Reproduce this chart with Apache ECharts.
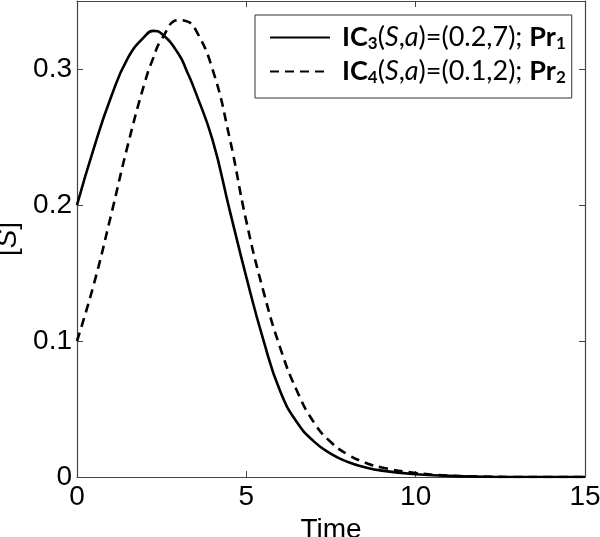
<!DOCTYPE html>
<html>
<head>
<meta charset="utf-8">
<script src="https://cdn.jsdelivr.net/npm/echarts@6/dist/echarts.min.js"></script>
<style>
    html, body { margin: 0; padding: 0; background: #fff; }
    #chart { width: 600px; height: 537px; }
</style>
</head>
<body>
<div id="chart"></div>
<script>
// time points (x) and concentration [S]
const time = [0, 0.5, 1, 1.5, 2, 2.25, 2.5, 3, 3.25, 3.5, 4, 4.5, 5, 5.5, 6, 6.5, 7, 7.5, 8, 8.5, 9, 10, 11, 12, 13, 14, 15];
const icThree = [0.200, 0.242, 0.279, 0.308, 0.324, 0.328, 0.326, 0.311, 0.298, 0.283, 0.248, 0.197, 0.147, 0.101, 0.063, 0.040, 0.026, 0.017, 0.011, 0.0072, 0.0047, 0.002, 0.0008, 0.0002, 0, 0, 0];
const icFour = [0.100, 0.142, 0.192, 0.244, 0.290, 0.308, 0.322, 0.336, 0.335, 0.329, 0.300, 0.250, 0.188, 0.137, 0.095, 0.063, 0.040, 0.0255, 0.0165, 0.0107, 0.007, 0.003, 0.001, 0.0003, 0, 0, 0];
const xTicks = [0, 5, 10, 15];
const yTicks = [0, 0.1, 0.2, 0.3];
const seriesNames = ['ic3', 'ic4'];

let chart = echarts.init(document.getElementById("chart"));

function pairs(vals) {
    return time.map((t, i) => [t, vals[i]]);
}

const axisCol = "#444";
const tickFont = { fontFamily: "Liberation Sans", fontSize: 28, color: "#000" };
const frameLine = { show: true, onZero: false, lineStyle: { color: axisCol, width: 1.2 } };
const tickStyle = { show: true, inside: true, length: 6, lineStyle: { color: axisCol } };

chart.setOption({
    animation: false,
    grid: { left: 77, right: 15, top: 1, bottom: 60, outerBoundsMode: "none", containLabel: false },
    legend: {
        data: seriesNames,
        orient: "vertical",
        left: 255,
        top: 15,
        padding: [9, 6, 12, 14],
        itemGap: 6,
        itemWidth: 60,
        itemHeight: 14,
        borderColor: "#333",
        borderWidth: 1,
        backgroundColor: "#fff",
        itemStyle: { opacity: 0 },
        formatter: function (name) {
            if (name === 'ic3') return '{sp|}{b|IC}{sub|3}{n|(}{i|S}{n|,}{i|a}{n|)=(0.2,7); }{b|Pr}{sub|1}';
            return '{sp|}{b|IC}{sub|4}{n|(}{i|S}{n|,}{i|a}{n|)=(0.1,2); }{b|Pr}{sub|2}';
        },
        textStyle: {
            rich: {
                sp: { width: 7 },
                n: { fontFamily: "Lato", fontSize: 27, color: "#000", lineHeight: 27 },
                b: { fontFamily: "Lato", fontSize: 27, fontWeight: "bold", color: "#000", lineHeight: 27 },
                i: { fontFamily: "Lato", fontSize: 27, fontStyle: "italic", color: "#000", lineHeight: 27 },
                sub: { fontFamily: "Lato", fontSize: 17, fontWeight: "bold", color: "#000", padding: [12, 0, 0, 0] },
            },
        },
    },
    xAxis: [
        {
            type: "value",
            min: 0,
            max: 15,
            interval: 5,
            name: "Time",
            nameLocation: "middle",
            nameGap: 23,
            nameTextStyle: tickFont,
            axisLine: frameLine,
            axisTick: Object.assign({ customValues: xTicks }, tickStyle),
            axisLabel: Object.assign({ margin: 6, customValues: xTicks }, tickFont),
            splitLine: { show: false },
        },
        {
            type: "value",
            position: "top",
            min: 0,
            max: 15,
            interval: 5,
            axisLine: frameLine,
            axisTick: Object.assign({ customValues: xTicks }, tickStyle),
            axisLabel: { show: false },
            splitLine: { show: false },
        },
    ],
    yAxis: [
        {
            type: "value",
            min: 0,
            max: 0.35,
            name: "{n|[}{i|S}{n|]}",
            nameLocation: "middle",
            nameGap: 46,
            nameTextStyle: {
                rich: {
                    n: { fontFamily: "Liberation Sans", fontSize: 28, color: "#000" },
                    i: { fontFamily: "Liberation Sans", fontSize: 28, fontStyle: "italic", color: "#000" },
                },
            },
            axisLine: frameLine,
            axisTick: Object.assign({ customValues: yTicks }, tickStyle),
            axisLabel: Object.assign({ margin: 5, customValues: yTicks }, tickFont),
            splitLine: { show: false },
        },
        {
            type: "value",
            position: "right",
            min: 0,
            max: 0.35,
            axisLine: frameLine,
            axisTick: Object.assign({ customValues: yTicks }, tickStyle),
            axisLabel: { show: false },
            splitLine: { show: false },
        },
    ],
    series: [
        {
            name: "ic3",
            type: "line",
            data: pairs(icThree),
            smooth: 0.5,
            symbol: "none",
            lineStyle: { color: "#000", width: 2.6, type: "solid" },
            itemStyle: { color: "#000" },
        },
        {
            name: "ic4",
            type: "line",
            data: pairs(icFour),
            smooth: 0.5,
            symbol: "none",
            lineStyle: { color: "#000", width: 2.6, type: [9, 6] },
            itemStyle: { color: "#000" },
        },
    ],
});
</script>
</body>
</html>
